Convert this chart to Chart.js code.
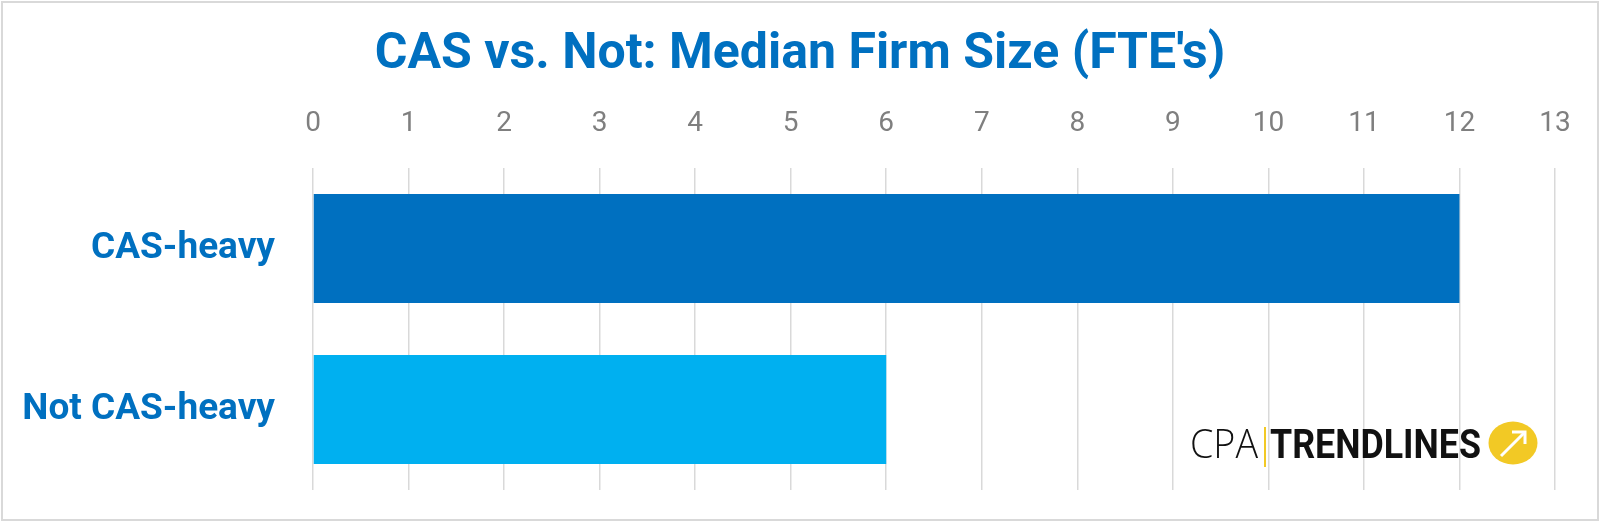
<!DOCTYPE html>
<html>
<head>
<meta charset="utf-8">
<script src="https://cdn.jsdelivr.net/npm/chart.js@4.4.1/dist/chart.umd.min.js"></script>
<style>
  html, body { margin: 0; padding: 0; background: #fff; }
  #wrap { width: 1600px; height: 522px; position: relative; }
</style>
</head>
<body>
<div id="wrap"><canvas id="chart"></canvas></div>
<script>
// ---- Data ----
const categories = ['CAS-heavy', 'Not CAS-heavy'];
const medianFte = [12, 6];
const barColors = ['#0070C0', '#00B0F0'];
const chartTitle = "CAS vs. Not: Median Firm Size (FTE's)";

const fontFam = "'Roboto', 'Liberation Sans', sans-serif";

// white background + light frame around the whole chart
const framePlugin = {
    id: 'frame',
    beforeDraw(chart) {
        const c = chart.ctx;
        c.save();
        c.fillStyle = '#fff';
        c.fillRect(0, 0, chart.width, chart.height);
        c.strokeStyle = '#d9d9d9';
        c.lineWidth = 2;
        c.strokeRect(2, 2, chart.width - 4, chart.height - 4);
        c.restore();
    }
};

// CPA TRENDLINES logo, bottom right
const logoPlugin = {
    id: 'logo',
    afterDraw(chart) {
        const c = chart.ctx;
        const baseY = 458;
        c.save();
        c.textBaseline = 'alphabetic';
        c.textAlign = 'left';
        c.fillStyle = '#111';
        c.font = "300 41px 'Open Sans', sans-serif";
        c.fillText('CPA', 1190, baseY, 68);
        const divX = 1264;
        c.fillStyle = '#F2C925';
        c.fillRect(divX, 427, 2, 40);
        c.fillStyle = '#111';
        c.font = "bold 41px " + fontFam;
        c.fillText('TRENDLINES', divX + 6, baseY, 211);
        // yellow badge with arrow
        const cx = 1513, cy = 443;
        c.fillStyle = '#F2C925';
        c.beginPath();
        c.ellipse(cx, cy, 24.5, 21.5, 0, 0, Math.PI * 2);
        c.fill();
        c.strokeStyle = '#fff';
        c.lineWidth = 3;
        c.beginPath();
        c.moveTo(cx - 12, cy + 13);
        c.lineTo(cx + 11, cy - 10);
        c.stroke();
        c.beginPath();
        c.moveTo(cx - 1, cy - 11);
        c.lineTo(cx + 12, cy - 11);
        c.lineTo(cx + 12, cy + 1);
        c.stroke();
        c.restore();
    }
};

new Chart(document.getElementById('chart'), {
    type: 'bar',
    data: {
        labels: categories,
        datasets: [{
            data: medianFte,
            backgroundColor: barColors,
            borderWidth: 0,
            barPercentage: 0.677,
            categoryPercentage: 1
        }]
    },
    options: {
        indexAxis: 'y',
        responsive: true,
        maintainAspectRatio: false,
        animation: false,
        layout: {
            padding: { left: 0, right: 0, top: 0, bottom: 32 }
        },
        plugins: {
            legend: { display: false },
            tooltip: { enabled: false },
            title: {
                display: true,
                text: chartTitle,
                color: '#0070C0',
                font: { family: fontFam, size: 50, weight: 'bold' },
                padding: { top: 25, bottom: 0 }
            }
        },
        scales: {
            x: {
                position: 'top',
                min: 0,
                max: 13,
                ticks: {
                    stepSize: 1,
                    color: '#7f7f7f',
                    font: { family: fontFam, size: 28 },
                    padding: 27
                },
                grid: { color: '#d9d9d9', lineWidth: 1.5, drawTicks: false },
                border: { display: false },
                afterFit(scale) { scale.height = 83; }
            },
            y: {
                ticks: {
                    color: '#0070C0',
                    font: { family: fontFam, size: 37, weight: 'bold' },
                    padding: 38
                },
                grid: { display: false, drawTicks: false },
                border: { display: false },
                afterFit(scale) {
                    scale.width = 313;
                    scale.paddingTop = 0;
                    scale.paddingBottom = 0;
                }
            },
            // empty spacer on the right so the title stays centred on the canvas
            spacer: {
                type: 'linear',
                position: 'right',
                ticks: { display: false },
                grid: { display: false, drawTicks: false },
                border: { display: false },
                afterFit(scale) {
                    scale.width = 45;
                    scale.paddingTop = 0;
                    scale.paddingBottom = 0;
                }
            }
        }
    },
    plugins: [framePlugin, logoPlugin]
});
</script>
</body>
</html>
